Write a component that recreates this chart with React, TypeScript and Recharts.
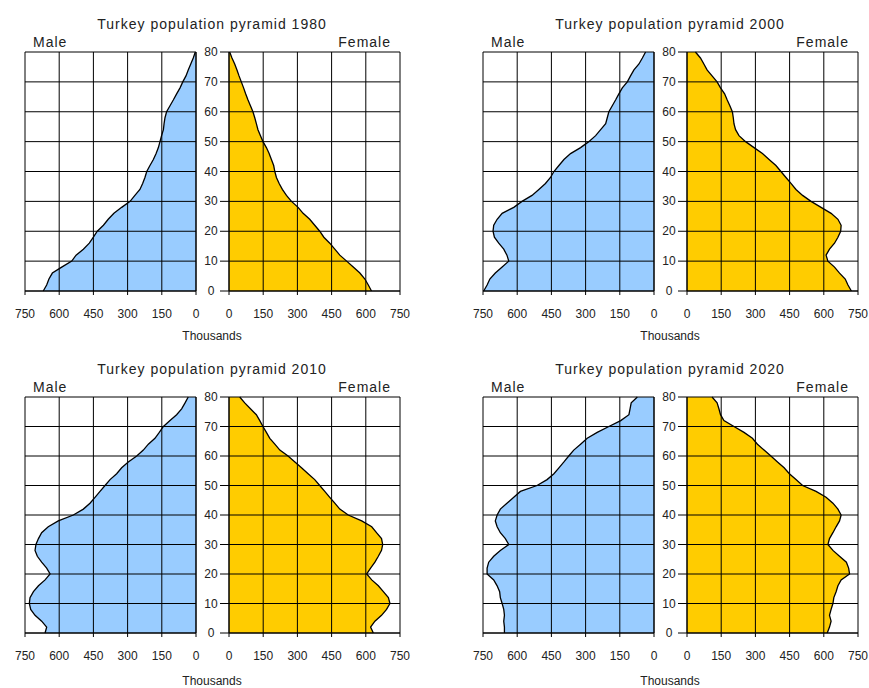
import React from 'react';
import { AreaChart, Area, XAxis, YAxis, ReferenceLine } from 'recharts';

// ages sampled every 2 years
const AGES = [0, 2, 4, 6, 8, 10, 12, 14, 16, 18, 20, 22, 24, 26, 28, 30, 32, 34, 36, 38, 40, 42, 44, 46, 48, 50, 52, 54, 56, 58, 60, 62, 64, 66, 68, 70, 72, 74, 76, 78, 80];
const X_TICKS = [0, 150, 300, 450, 600, 750];
const AGE_TICKS = [0, 10, 20, 30, 40, 50, 60, 70, 80];

// thousands
const male1980 = [670, 655, 645, 630, 589, 545, 526, 494, 468, 450, 433, 406, 385, 360, 326, 289, 268, 246, 234, 224, 216, 202, 187, 175, 165, 158, 151, 143, 140, 136, 129, 114, 99, 85, 70, 58, 44, 34, 23, 12, 3];
const female1980 = [625, 611, 596, 574, 545, 516, 486, 464, 442, 416, 398, 376, 354, 325, 303, 274, 252, 234, 220, 208, 201, 196, 186, 176, 164, 149, 138, 127, 120, 113, 105, 94, 83, 73, 64, 54, 44, 35, 25, 13, 3];
const male2000 = [747, 732, 720, 696, 666, 637, 645, 659, 681, 700, 706, 703, 688, 666, 615, 579, 535, 505, 476, 454, 439, 417, 395, 366, 322, 286, 256, 234, 212, 205, 198, 183, 168, 154, 139, 117, 103, 88, 66, 51, 37];
const female2000 = [721, 706, 694, 669, 647, 618, 610, 625, 647, 662, 674, 676, 662, 632, 588, 544, 507, 478, 456, 434, 412, 390, 360, 331, 294, 257, 228, 213, 206, 203, 199, 188, 176, 165, 147, 132, 110, 88, 74, 59, 37];
const male2010 = [662, 655, 677, 706, 725, 731, 728, 713, 691, 662, 640, 655, 677, 696, 706, 702, 691, 677, 648, 604, 538, 494, 465, 443, 421, 399, 377, 348, 326, 297, 260, 231, 209, 180, 161, 143, 114, 85, 63, 48, 34];
const female2010 = [633, 621, 640, 669, 691, 706, 699, 677, 655, 626, 604, 621, 640, 655, 669, 674, 669, 647, 626, 582, 523, 486, 464, 442, 420, 398, 376, 347, 318, 289, 259, 223, 201, 179, 164, 149, 135, 120, 94, 69, 47];
const male2020 = [656, 656, 659, 656, 659, 666, 674, 677, 688, 703, 732, 732, 725, 703, 674, 637, 652, 674, 688, 696, 688, 674, 645, 615, 586, 513, 469, 439, 417, 395, 374, 352, 322, 293, 249, 198, 146, 110, 105, 100, 73];
const female2020 = [615, 625, 632, 625, 632, 640, 644, 654, 662, 676, 713, 709, 699, 669, 640, 618, 625, 640, 654, 669, 676, 662, 640, 610, 566, 507, 478, 449, 426, 397, 368, 338, 309, 287, 250, 206, 162, 147, 140, 132, 110];

const FONT = '"Liberation Sans", Arial, sans-serif';
const TEXT = '#222';
const BLUE = '#99ccff';
const ORANGE = '#ffcc00';
const PLOT_W = 171;
const PLOT_TOP = 52;

const label = (text: string, cx: number, cy: number, size: number, spacing = 0) => (
  <div style={{ position: 'absolute', left: cx - 150, top: cy - 9, width: 300, lineHeight: '18px', textAlign: 'center', fontSize: size, letterSpacing: spacing, color: TEXT }}>{text}</div>
);

const AgeTick = (props: any) => {
  const { x, y, payload } = props;
  return (
    <text x={x - 7} y={y} dy={4} textAnchor="middle" fontSize={12} fill={TEXT} fontFamily={FONT}>{payload.value}</text>
  );
};

const Half = ({ values, side, plotH }: { values: number[]; side: 'male' | 'female'; plotH: number }) => {
  const data = AGES.map((age, i) => ({ age, value: values[i] }));
  const isMale = side === 'male';
  const w = isMale ? 25 + PLOT_W + 8 : 25 + PLOT_W + 14;
  return (
    <AreaChart
      width={w}
      height={10 + plotH + 50}
      data={data}
      layout="vertical"
      margin={isMale ? { top: 10, left: 25, right: 0, bottom: 0 } : { top: 10, left: 0, right: 14, bottom: 0 }}
    >
      <XAxis type="number" dataKey="value" domain={[0, 750]} ticks={X_TICKS} reversed={isMale} height={50}
        tickSize={4} tickMargin={14} stroke="#000" tick={{ fontSize: 12, fill: TEXT, fontFamily: FONT }} />
      {isMale ? (
        <YAxis type="number" dataKey="age" domain={[0, 80]} ticks={AGE_TICKS} orientation="right" width={8}
          reversed tickSize={6} tick={false} stroke="#000" />
      ) : (
        <YAxis type="number" dataKey="age" domain={[0, 80]} ticks={AGE_TICKS} orientation="left" width={25}
          reversed tickSize={9} tick={<AgeTick />} stroke="#000" />
      )}
      <Area type="linear" dataKey="value" fill={isMale ? BLUE : ORANGE} fillOpacity={1} stroke="#000" strokeWidth={1.3} isAnimationActive={false} />
      {X_TICKS.map((v) => <ReferenceLine key={'x' + v} x={v} stroke="#000" strokeWidth={1} />)}
      {AGE_TICKS.map((v) => <ReferenceLine key={'y' + v} y={v} stroke="#000" strokeWidth={1} />)}
    </AreaChart>
  );
};

const Panel = ({ title, male, female, left, top, plotH }: { title: string; male: number[]; female: number[]; left: number; top: number; plotH: number }) => (
  <div style={{ position: 'absolute', left, top, width: 420, height: 345, fontFamily: FONT }}>
    {label(title, 212, 24, 14, 1)}
    <div style={{ position: 'absolute', left: 33, top: 33, fontSize: 14, letterSpacing: 1, lineHeight: '18px', color: TEXT }}>Male</div>
    <div style={{ position: 'absolute', right: 420 - 391, top: 33, fontSize: 14, letterSpacing: 1, lineHeight: '18px', color: TEXT }}>Female</div>
    <div style={{ position: 'absolute', left: 0, top: PLOT_TOP - 10 }}>
      <Half values={male} side="male" plotH={plotH} />
    </div>
    <div style={{ position: 'absolute', left: 204, top: PLOT_TOP - 10 }}>
      <Half values={female} side="female" plotH={plotH} />
    </div>
    {label('Thousands', 212, 336, 12)}
  </div>
);

export default function App() {
  return (
    <div style={{ position: 'absolute', left: 0, top: 0, width: 869, height: 688, background: '#fff', overflow: 'hidden' }}>
      <Panel title="Turkey population pyramid 1980" male={male1980} female={female1980} left={0} top={0} plotH={239} />
      <Panel title="Turkey population pyramid 2000" male={male2000} female={female2000} left={458} top={0} plotH={239} />
      <Panel title="Turkey population pyramid 2010" male={male2010} female={female2010} left={0} top={345} plotH={236} />
      <Panel title="Turkey population pyramid 2020" male={male2020} female={female2020} left={458} top={345} plotH={236} />
    </div>
  );
}
